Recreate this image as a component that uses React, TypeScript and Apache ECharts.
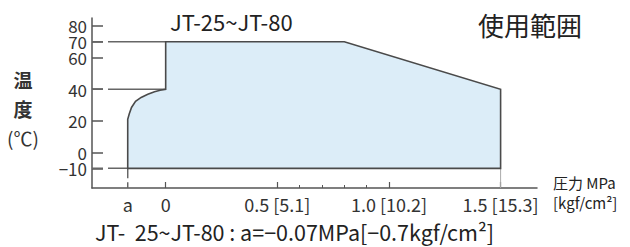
import React, { useEffect, useRef } from "react";
import * as echarts from "echarts";

// ---- data ----
const A_POS = -0.17; // schematic position of "a" on the pressure axis
const outlineX = [A_POS, A_POS, -0.163, -0.153, -0.135, -0.11, -0.08, -0.05, -0.025, 0, 0, 0.8, 1.5, 1.5];
const outlineY = [-10, 21, 24.5, 28.5, 32.3, 34.8, 36.8, 38.4, 39.4, 40, 70, 70, 40, -10];

const yTickValues = [-10, 0, 20, 40, 60, 70, 80];
const yLabelsSetA = [80, 60, 40, 0];
const yLabelsSetB = [70, 20, -10];
const xTickValues = [A_POS, 0, 0.5, 1.0, 1.5];
const xTickLabels = ["a", "0", "0.5 [5.1]", "1.0 [10.2]", "1.5 [15.3]"];
const xMinorTicks = [0.6, 0.7, 0.8, 0.9];

const guideLevels = [70, 40, -10];
const guideEnds = [0, 0, A_POS];

const X_MIN = -0.33;
const X_MAX = 1.663;
const Y_MIN = -22.4;
const Y_MAX = 85;

const FONT = "'Noto Sans CJK JP', 'Noto Sans', sans-serif";

export default function App() {
  const ref = useRef<HTMLDivElement>(null);
  useEffect(() => {
    if (!ref.current) return;
    const chart = echarts.init(ref.current, undefined, { renderer: "svg" });
    const axisColor = "#555";
    const yFmt = (v: number) => (v < 0 ? "\u2212" + Math.abs(v) : String(v));
    const yLabelStyle = {
      margin: 5,
      fontSize: 17,
      fontFamily: FONT,
      color: "#333",
      hideOverlap: false,
      showMinLabel: true,
      showMaxLabel: true,
      formatter: yFmt,
    };
    const guideSeries = guideLevels.map((lv, i) => ({
      type: "line",
      data: [
        [X_MIN, lv],
        [guideEnds[i], lv],
      ],
      symbol: "none",
      silent: true,
      lineStyle: { color: "#666", width: 1.5, type: [11, 5, 300, 5] },
      z: 1,
    }));
    chart.setOption({
      animation: false,
      grid: { left: 92, right: 93, top: 18, bottom: 59 },
      xAxis: [
        {
          type: "value",
          min: X_MIN,
          max: X_MAX,
          splitLine: { show: false },
          axisLine: { show: true, onZero: false, lineStyle: { color: axisColor, width: 1.5 } },
          axisTick: {
            show: true,
            inside: true,
            length: 6,
            customValues: xTickValues.slice(1),
            lineStyle: { color: axisColor, width: 1.2 },
          },
          axisLabel: {
            customValues: xTickValues,
            margin: 7,
            fontSize: 18,
            fontFamily: FONT,
            color: "#333",
            hideOverlap: false,
            formatter: (v: number) => {
              let best = 0;
              xTickValues.forEach((t, i) => {
                if (Math.abs(t - v) < Math.abs(xTickValues[best] - v)) best = i;
              });
              return xTickLabels[best];
            },
          },
        },
        {
          type: "value",
          min: X_MIN,
          max: X_MAX,
          position: "bottom",
          splitLine: { show: false },
          axisLine: { show: false, onZero: false },
          axisLabel: { show: false },
          axisTick: {
            show: true,
            inside: true,
            length: 3,
            customValues: xMinorTicks,
            lineStyle: { color: axisColor, width: 1 },
          },
        },
      ],
      yAxis: [
        {
          type: "value",
          min: Y_MIN,
          max: Y_MAX,
          position: "left",
          splitLine: { show: false },
          axisLine: { show: true, onZero: false, lineStyle: { color: axisColor, width: 1.5 } },
          axisTick: {
            show: true,
            inside: true,
            length: 11,
            customValues: yTickValues,
            lineStyle: { color: axisColor, width: 1.5 },
          },
          axisLabel: { ...yLabelStyle, customValues: yLabelsSetA },
        },
        {
          type: "value",
          min: Y_MIN,
          max: Y_MAX,
          position: "left",
          offset: 0,
          splitLine: { show: false },
          axisLine: { show: false, onZero: false },
          axisTick: { show: false },
          axisLabel: { ...yLabelStyle, customValues: yLabelsSetB },
        },
      ],
      series: [
        ...guideSeries,
        {
          type: "line",
          data: [
            [A_POS, -10],
            [A_POS, Y_MIN],
          ],
          symbol: "none",
          silent: true,
          lineStyle: { color: "#666", width: 1.5, type: [10, 4] },
          z: 1,
        },
        {
          type: "line",
          data: [
            [1.5, -10],
            [1.5, Y_MIN],
          ],
          symbol: "none",
          silent: true,
          lineStyle: { color: "#aaa", width: 1 },
          z: 1,
        },
        {
          type: "custom",
          data: [[0, 0]],
          silent: true,
          z: 3,
          renderItem: (_params: any, api: any) => ({
            type: "polygon",
            shape: {
              points: outlineX.map((x, i) => api.coord([x, outlineY[i]])),
            },
            style: { fill: "#dcedf8", stroke: "#4a4a4a", lineWidth: 1.6 },
          }),
        },
      ],
      graphic: [
        {
          type: "text",
          x: 170,
          y: 21,
          style: { text: "JT-25~JT-80", font: `22px ${FONT}`, fill: "#222", verticalAlign: "middle" },
        },
        {
          type: "text",
          x: 478,
          y: 24,
          style: { text: "使用範囲", font: `26px ${FONT}`, fill: "#222", verticalAlign: "middle" },
        },
        {
          type: "text",
          x: 23,
          y: 79,
          style: { text: "温", font: `bold 19px ${FONT}`, fill: "#333", align: "center", verticalAlign: "middle" },
        },
        {
          type: "text",
          x: 23,
          y: 108,
          style: { text: "度", font: `bold 19px ${FONT}`, fill: "#333", align: "center", verticalAlign: "middle" },
        },
        {
          type: "text",
          x: 23,
          y: 137,
          style: { text: "(℃)", font: `19px ${FONT}`, fill: "#333", align: "center", verticalAlign: "middle" },
        },
        {
          type: "text",
          x: 553,
          y: 182,
          style: { text: "圧力 MPa", font: `15px ${FONT}`, fill: "#222", verticalAlign: "middle" },
        },
        {
          type: "text",
          x: 553,
          y: 202,
          style: { text: "[kgf/cm²]", font: `15px ${FONT}`, fill: "#222", verticalAlign: "middle" },
        },
        {
          type: "text",
          x: 95,
          y: 231,
          style: {
            text: "JT-  25~JT-80 : a=\u22120.07MPa[\u22120.7kgf/cm²]",
            font: `21.5px ${FONT}`,
            fill: "#222",
            verticalAlign: "middle",
          },
        },
      ],
    });
    return () => chart.dispose();
  }, []);
  return (
    <div
      ref={ref}
      style={{ position: "fixed", left: 0, top: 0, width: 630, height: 247, background: "#fff" }}
    />
  );
}
